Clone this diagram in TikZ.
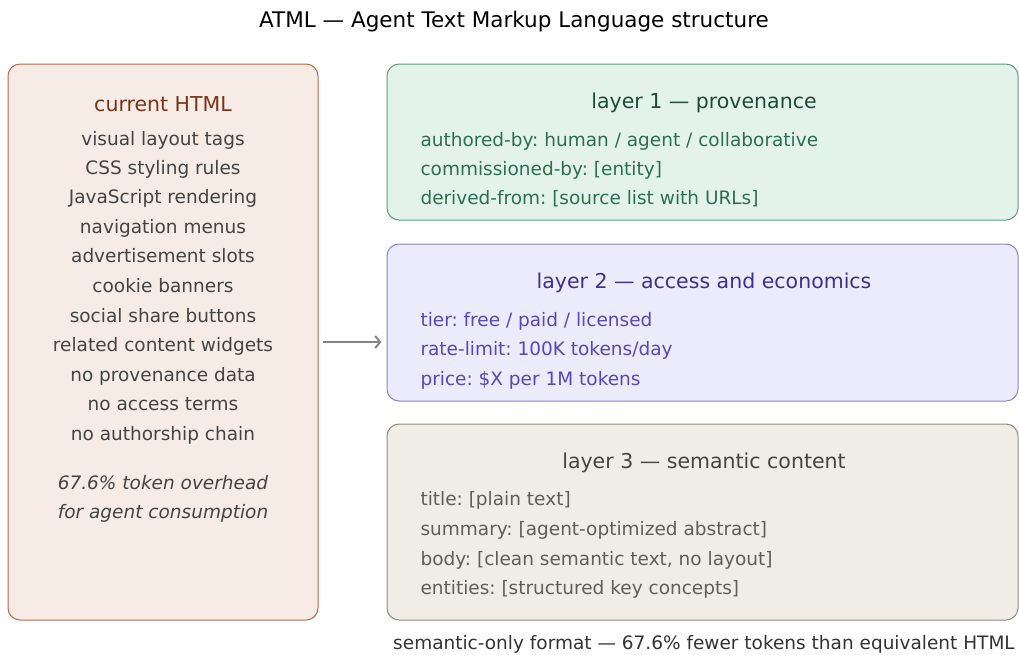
\documentclass[tikz,border=0pt]{standalone}
\usepackage{fontspec}
\setmainfont{DejaVu Sans}
\usetikzlibrary{arrows.meta}
\definecolor{htmlfill}{HTML}{F6EBE5}
\definecolor{htmldraw}{HTML}{B8694E}
\definecolor{htmlhead}{HTML}{7A3418}
\definecolor{provfill}{HTML}{E3F3EC}
\definecolor{provdraw}{HTML}{5E9C7C}
\definecolor{provhead}{HTML}{1E4A38}
\definecolor{provtext}{HTML}{2E6F50}
\definecolor{accfill}{HTML}{ECEBFB}
\definecolor{accdraw}{HTML}{8A82D6}
\definecolor{acchead}{HTML}{3A3290}
\definecolor{acctext}{HTML}{5548B8}
\definecolor{semfill}{HTML}{F0EDE6}
\definecolor{semdraw}{HTML}{8C8A82}
\definecolor{semhead}{HTML}{444441}
\definecolor{semtext}{HTML}{5F5E5A}
\definecolor{plaintext}{HTML}{444444}
\begin{document}
\frenchspacing
\begin{tikzpicture}[x=1pt, y=-1pt, line width=1pt,
  box/.style={draw, rounded corners=12pt, inner sep=0pt},
  line/.style={font=\fontsize{18.5}{22}\selectfont, inner sep=0pt, text height=11pt, text depth=6pt, yshift=-4pt},
  head/.style={font=\fontsize{20.5}{24}\selectfont, inner sep=0pt, text height=13pt, text depth=7pt}]
\useasboundingbox (0,0) rectangle (1019,654);
\node[head, text=black, font=\fontsize{21.5}{24}\selectfont, yshift=-4pt] (title) at (514,20) {ATML — Agent Text Markup Language structure};
% boxes
\node[box, fill=htmlfill, draw=htmldraw, minimum width=310pt, minimum height=556pt] (html) at (163,342) {};
\node[box, fill=provfill, draw=provdraw, minimum width=631pt, minimum height=156pt] (l1) at (702.5,142) {};
\node[box, fill=accfill, draw=accdraw, minimum width=631pt, minimum height=157pt] (l2) at (702.5,322.5) {};
\node[box, fill=semfill, draw=semdraw, minimum width=631pt, minimum height=196pt] (l3) at (702.5,522) {};
% current HTML
\begin{scope}[every node/.style={line, text=plaintext}]
\node[head, text=htmlhead] (h0) at (163,104) {current HTML};
\node (h1) at (163,139) {visual layout tags};
\node (h2) at (163,168) {CSS styling rules};
\node (h3) at (163,197) {JavaScript rendering};
\node (h4) at (163,227) {navigation menus};
\node (h5) at (163,256) {advertisement slots};
\node (h6) at (163,286) {cookie banners};
\node (h7) at (163,316) {social share buttons};
\node (h8) at (163,345) {related content widgets};
\node (h9) at (163,375) {no provenance data};
\node (h10) at (163,404) {no access terms};
\node (h11) at (163,434) {no authorship chain};
\node[font=\fontsize{18.5}{22}\selectfont\itshape] (h12) at (163,483) {67.6\% token overhead};
\node[font=\fontsize{18.5}{22}\selectfont\itshape] (h13) at (163,512) {for agent consumption};
\end{scope}
% layer 1
\begin{scope}[every node/.style={line, anchor=west, text=provtext}]
\node[head, anchor=center, text=provhead] (p0) at (704,101) {layer 1 — provenance};
\node (p1) at (420,140) {authored-by: human / agent / collaborative};
\node (p2) at (420,169) {commissioned-by: [entity]};
\node (p3) at (420,198) {derived-from: [source list with URLs]};
\end{scope}
% layer 2
\begin{scope}[every node/.style={line, anchor=west, text=acctext}]
\node[head, anchor=center, text=acchead] (a0) at (704,281) {layer 2 — access and economics};
\node (a1) at (420,320) {tier: free / paid / licensed};
\node (a2) at (420,349) {rate-limit: 100K tokens/day};
\node (a3) at (420,379) {price: \$X per 1M tokens};
\end{scope}
% layer 3
\begin{scope}[every node/.style={line, anchor=west, text=semtext}]
\node[head, anchor=center, text=semhead] (s0) at (704,461) {layer 3 — semantic content};
\node (s1) at (420,499) {title: [plain text]};
\node (s2) at (420,529) {summary: [agent-optimized abstract]};
\node (s3) at (420,559) {body: [clean semantic text, no layout]};
\node (s4) at (420,588) {entities: [structured key concepts]};
\end{scope}
\node[line, text=black!80] (foot) at (704,643) {semantic-only format — 67.6\% fewer tokens than equivalent HTML};
% arrow
\draw[-{Straight Barb[length=5pt, width=12pt]}, line width=2pt, draw=black!48, shorten <=4pt, shorten >=5pt] (html.east) -- (html.east -| l2.west);
\end{tikzpicture}
\end{document}
